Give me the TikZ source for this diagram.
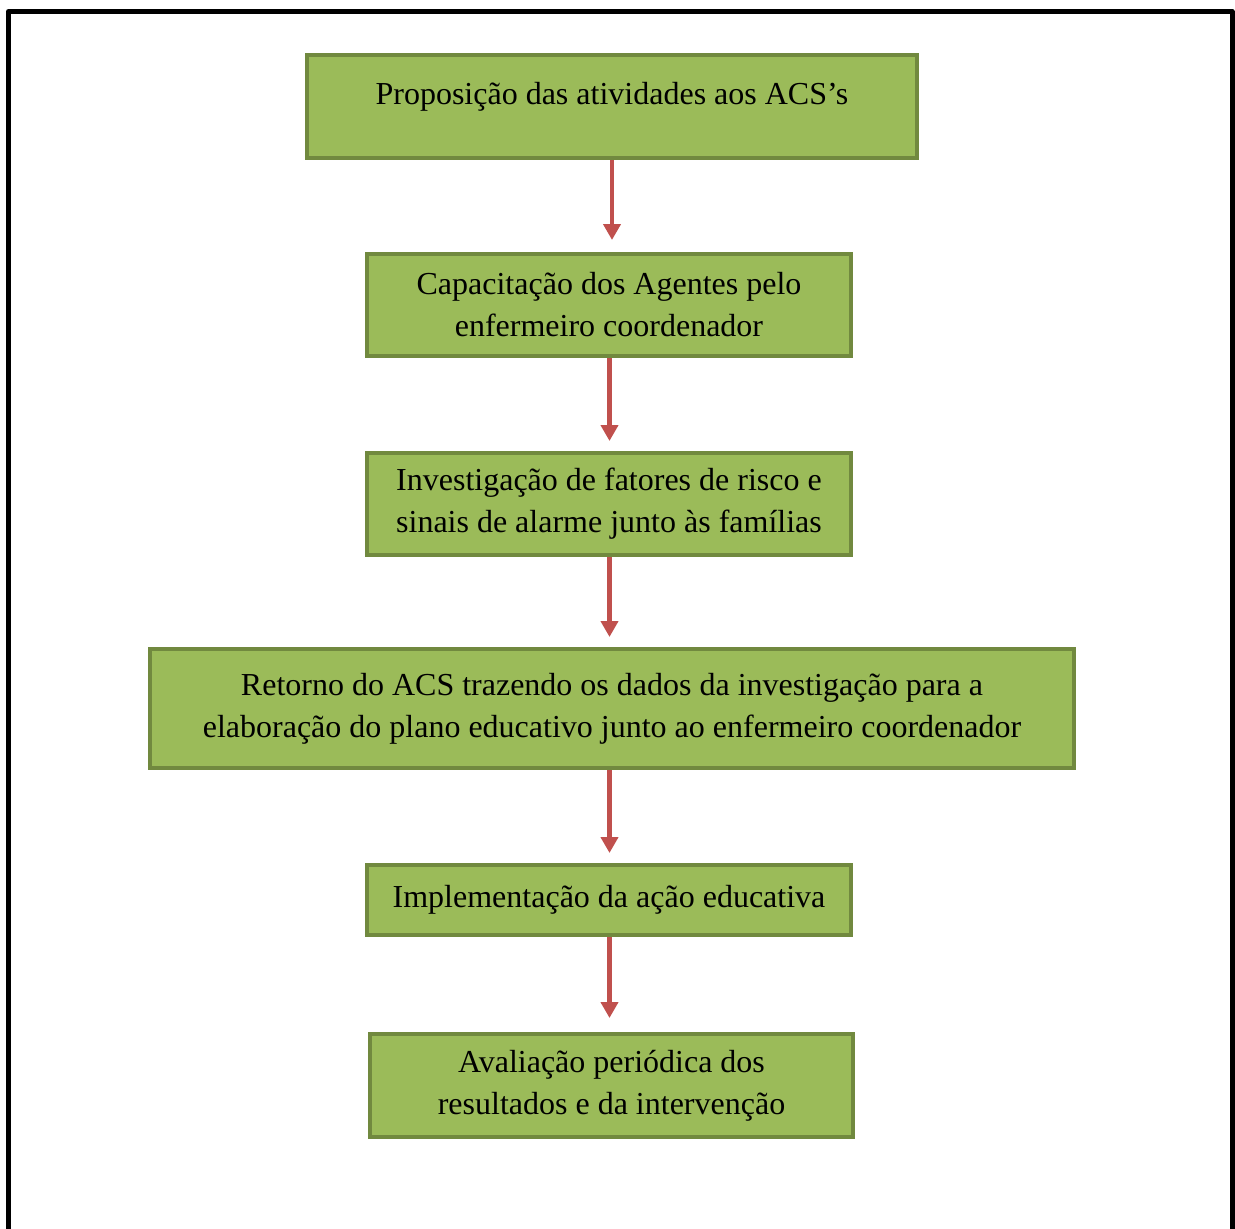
\documentclass[tikz,border=0pt]{standalone}
\usepackage{fontspec}
\setmainfont{Liberation Serif}
\usetikzlibrary{arrows.meta}
\definecolor{boxfill}{HTML}{9BBB59}
\definecolor{boxline}{HTML}{71893F}
\definecolor{arrowred}{HTML}{C0504D}
\begin{document}
\begin{tikzpicture}[x=1pt,y=-1pt,
  flowbox/.style={draw=boxline, fill=boxfill, line width=4.5pt, rectangle,
    align=center, inner sep=0pt, font=\fontsize{32}{42}\selectfont, text=black},
  flowarrow/.style={draw=arrowred, line width=4.5pt,
    -{Triangle[width=17pt,length=16pt]}, shorten >=0pt}]
\useasboundingbox (0,0) rectangle (1235,1229);
\begin{scope}
\clip (0,0) rectangle (1235,1229);
\draw[line width=5pt, line join=round] (8.5,1260) -- (8.5,11.5) -- (1232,11.5) -- (1232,1260);
\end{scope}
\node[flowbox, minimum width=610pt, minimum height=103pt, text depth=27pt] (b1) at (612,106.5)
  {Proposição das atividades aos ACS’s};
\node[flowbox, minimum width=484pt, minimum height=102pt] (b2) at (609,305)
  {Capacitação dos Agentes pelo\\enfermeiro coordenador};
\node[flowbox, minimum width=484pt, minimum height=102pt] (b3) at (609,504)
  {Investigação de fatores de risco e\\sinais de alarme junto às famílias};
\node[flowbox, minimum width=924pt, minimum height=119pt] (b4) at (612,708.5)
  {Retorno do ACS trazendo os dados da investigação para a\\elaboração do plano educativo junto ao enfermeiro coordenador};
\node[flowbox, minimum width=484pt, minimum height=70pt] (b5) at (609,900)
  {Implementação da ação educativa};
\node[flowbox, minimum width=483pt, minimum height=103pt] (b6) at (611.5,1085.5)
  {Avaliação periódica dos\\resultados e da intervenção};
\coordinate (t1) at (612,240);
\coordinate (t2) at (609.5,441);
\coordinate (t3) at (609.5,637);
\coordinate (t4) at (609.5,853);
\coordinate (t5) at (609.5,1018);
\draw[flowarrow] (b1.south -| t1) -- (t1);
\draw[flowarrow] (b2.south -| t2) -- (t2);
\draw[flowarrow] (b3.south -| t3) -- (t3);
\draw[flowarrow] (b4.south -| t4) -- (t4);
\draw[flowarrow] (b5.south -| t5) -- (t5);
\end{tikzpicture}
\end{document}
